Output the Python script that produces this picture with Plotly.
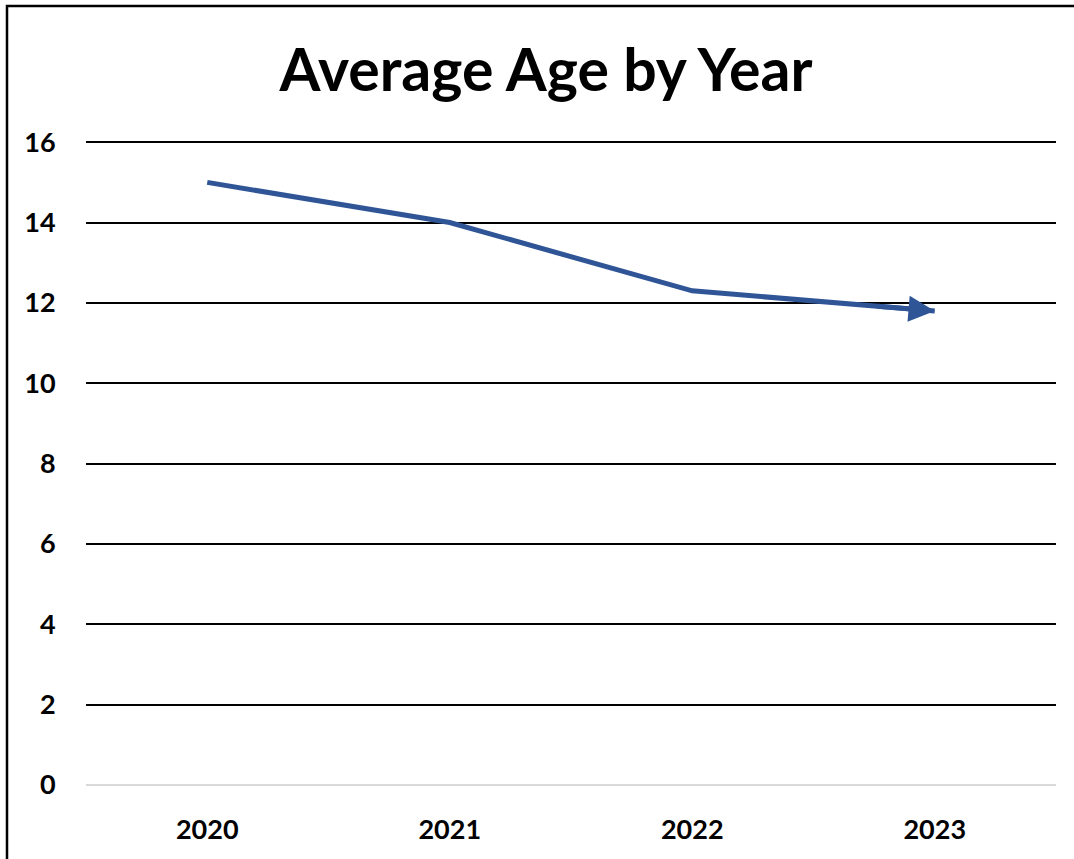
import plotly.graph_objects as go

# Chart data
years = ["2020", "2021", "2022", "2023"]
avg_age = [15.0, 14.0, 12.3, 11.8]
y_ticks = [0, 2, 4, 6, 8, 10, 12, 14, 16]

W, H = 1074, 859
L, R, T, B = 86, 18, 141, 74
plot_w = W - L - R
plot_h = H - T - B

font_family = "Lato, 'Open Sans', sans-serif"
line_color = "#2F5597"

fig = go.Figure()

fig.add_trace(go.Scatter(
    x=years,
    y=avg_age,
    mode="lines",
    line=dict(color=line_color, width=5),
    hoverinfo="x+y",
    showlegend=False,
))

# Arrowhead on the final point of the series, following the last segment
fig.add_annotation(
    x=3, y=avg_age[-1],
    xref="x", yref="y",
    text=" ",
    showarrow=True,
    arrowhead=2,
    arrowsize=1.05,
    arrowwidth=5,
    arrowcolor=line_color,
    ax=-60, ay=-5,
    axref="pixel", ayref="pixel",
    standoff=0,
)

# Outer chart frame
fig.add_shape(
    type="rect", xref="paper", yref="paper",
    x0=(7 - L) / plot_w, x1=(W + 20 - L) / plot_w,
    y0=(H - B - (H + 20)) / plot_h, y1=(H - B - 6) / plot_h,
    line=dict(color="#000000", width=2.5),
    fillcolor="rgba(0,0,0,0)",
    layer="above",
)

fig.update_layout(
    width=W,
    height=H,
    margin=dict(l=L, r=R, t=T, b=B),
    paper_bgcolor="white",
    plot_bgcolor="white",
    title=dict(
        text="<b>Average Age by Year</b>",
        x=546 / W,
        xanchor="center",
        xref="container",
        y=1 - 70 / H,
        yanchor="middle",
        yref="container",
        font=dict(family=font_family, size=59, color="#000000"),
    ),
    xaxis=dict(
        type="category",
        showgrid=False,
        showline=False,
        zeroline=False,
        ticks="outside",
        ticklen=21,
        tickcolor="rgba(0,0,0,0)",
        tickfont=dict(family=font_family, size=27, color="#000000", weight="bold"),
        range=[-0.5, 3.5],
    ),
    yaxis=dict(
        range=[0, 16.03],
        tickvals=y_ticks,
        ticktext=[str(v) for v in y_ticks],
        showgrid=True,
        gridcolor="#000000",
        gridwidth=1.6,
        zeroline=True,
        zerolinecolor="#D9D9D9",
        zerolinewidth=2,
        showline=False,
        ticks="outside",
        ticklen=24,
        tickcolor="rgba(0,0,0,0)",
        tickfont=dict(family=font_family, size=27, color="#000000", weight="bold"),
    ),
)

fig.write_html("out.html")
